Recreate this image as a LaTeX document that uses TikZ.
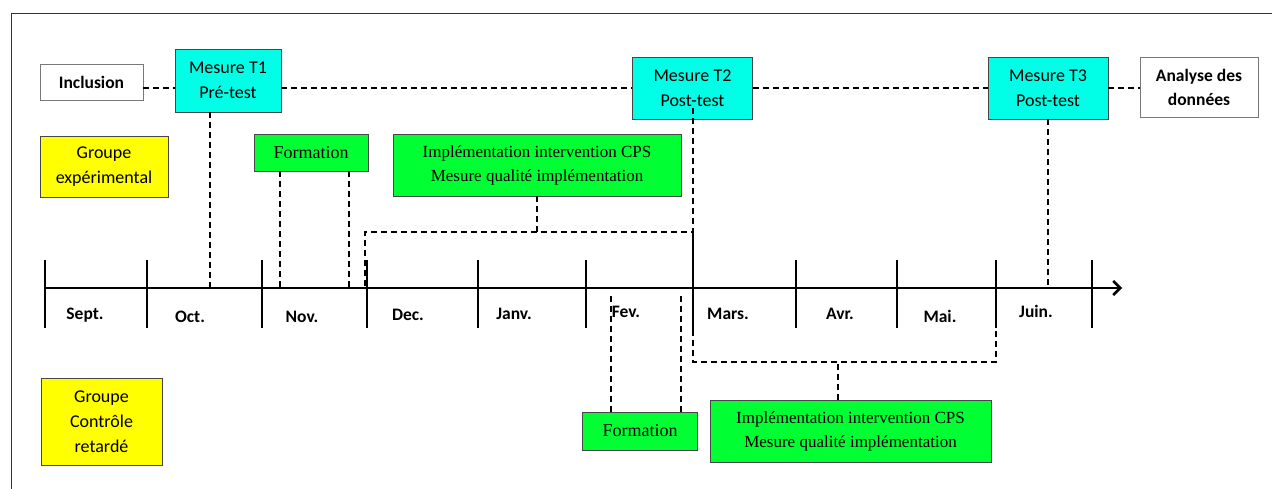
\documentclass[tikz,border=0pt]{standalone}
\usepackage{fontspec}
\newfontfamily\carl{Carlito}
\newfontfamily\tms{Liberation Serif}
\usetikzlibrary{arrows.meta}
\definecolor{cyanfill}{RGB}{0,255,230}
\definecolor{greenfill}{RGB}{0,255,51}
\definecolor{yellowfill}{RGB}{255,255,0}
\definecolor{boxline}{RGB}{70,70,70}
\definecolor{whiteline}{RGB}{120,120,120}
\begin{document}
\begin{tikzpicture}[x=1pt,y=-1pt,
  box/.style={draw=boxline, line width=0.9pt, inner sep=0pt, align=center},
  sansbox/.style={box, font=\carl\fontsize{18}{25}\selectfont},
  serifbox/.style={box, fill=greenfill, font=\tms\fontsize{18}{24}\selectfont},
  implbox/.style={serifbox, font=\tms\fontsize{17}{24}\selectfont},
  cyanbox/.style={sansbox, fill=cyanfill},
  yellowbox/.style={sansbox, fill=yellowfill},
  whitebox/.style={box, draw=whiteline, fill=white, font=\carl\bfseries\fontsize{17.5}{24}\selectfont},
  dashline/.style={line width=1.3pt, dash pattern=on 6pt off 4pt},
  tickline/.style={line width=1.6pt},
  axisline/.style={line width=2.6pt, -{Straight Barb[length=7pt,width=14pt]}},
  month/.style={anchor=base, inner sep=0pt, font=\carl\bfseries\fontsize{17.5}{20}\selectfont},
]
\useasboundingbox (0,0) rectangle (1272,489);
% frame
\draw[line width=1pt, black!80] (11,489) -- (11,14) -- (1272,14);

% boxes
\node[whitebox, minimum width=103pt, minimum height=36pt] (incl) at (91.5,82) {Inclusion};
\node[cyanbox, minimum width=106pt, minimum height=63pt] (t1) at (228,80.5) {Mesure T1\\Pré-test};
\node[cyanbox, minimum width=120pt, minimum height=62pt] (t2) at (692.5,88) {Mesure T2\\Post-test};
\node[cyanbox, minimum width=120pt, minimum height=62pt] (t3) at (1048,88) {Mesure T3\\Post-test};
\node[whitebox, minimum width=118pt, minimum height=60pt] (ana) at (1199,87) {Analyse des\\données};
\node[yellowbox, minimum width=128pt, minimum height=61pt] (gexp) at (104,166.5) {Groupe\\expérimental};
\node[serifbox, minimum width=114pt, minimum height=37pt] (form1) at (311,152.5) {Formation};
\node[implbox, minimum width=288pt, minimum height=62pt] (impl1) at (537,165) {Implémentation intervention CPS\\Mesure qualité implémentation};
\node[yellowbox, minimum width=121pt, minimum height=87pt] (gctl) at (101.5,421.5) {Groupe\\Contrôle\\retardé};
\node[serifbox, minimum width=115pt, minimum height=38pt] (form2) at (640,431) {Formation};
\node[implbox, minimum width=281pt, minimum height=62pt] (impl2) at (850.5,431) {Implémentation intervention CPS\\Mesure qualité implémentation};

% timeline
\coordinate (ax0) at (45,288);
\coordinate (ax1) at (1122,288);
\foreach \x in {45,147,262,367,478,586,796,897,996,1092}
  \draw[tickline] (\x,260) -- (\x,328);
\draw[axisline] (ax0) -- (ax1);

% month labels
\node[month] (msep) at (85,319) {Sept.};
\node[month] (moct) at (190,322) {Oct.};
\node[month] (mnov) at (302,322) {Nov.};
\node[month] (mdec) at (408,320) {Dec.};
\node[month] (mjan) at (514,319) {Janv.};
\node[month] (mfev) at (626,317) {Fev.};
\node[month] (mmar) at (728,319) {Mars.};
\node[month] (mavr) at (840,319) {Avr.};
\node[month] (mmai) at (940,322) {Mai.};
\node[month] (mjui) at (1036,317) {Juin.};

% coordinates for connector ends
\coordinate (a1) at (210,288);
\coordinate (f1a) at (280,290);
\coordinate (f1b) at (349,290);
\coordinate (b1) at (365,286);
\coordinate (b2) at (365,232);
\coordinate (b3) at (537,232);
\coordinate (b4) at (693,232);
\coordinate (c1) at (693,330);
\coordinate (c2) at (693,362);
\coordinate (c3) at (996,362);
\coordinate (c4) at (996,330);
\coordinate (c5) at (838,362);
\coordinate (d1) at (611,293);
\coordinate (d2) at (681,293);
\coordinate (a3) at (1048,288);

% main dashed line
\draw[dashline] (incl.east |- t2.west) -- (t1.west |- t2.west);
\draw[dashline] (t1.east |- t2.west) -- (t2.west);
\draw[dashline] (t2.east) -- (t3.west);
\draw[dashline] (t3.east) -- (ana.west |- t3.east);

% connectors to the timeline
\draw[dashline] (t1.south -| a1) -- (a1);
\draw[dashline] (form1.south -| f1a) -- (f1a);
\draw[dashline] (form1.south -| f1b) -- (f1b);
\draw[dashline] (b1) -- (b2) -- (b4);
\draw[dashline] (impl1.south) -- (b3);
\draw[dashline] ([yshift=11pt]t2.south -| b4) -- (b4);
\draw[tickline] (b4) -- (c1);
\draw[dashline] (c1) -- (c2) -- (c3) -- (c4);
\draw[dashline] (impl2.north -| c5) -- (c5);
\draw[dashline] (form2.north -| d1) -- (d1);
\draw[dashline] (form2.north -| d2) -- (d2);
\draw[dashline] (t3.south) -- (a3);
\end{tikzpicture}
\end{document}
